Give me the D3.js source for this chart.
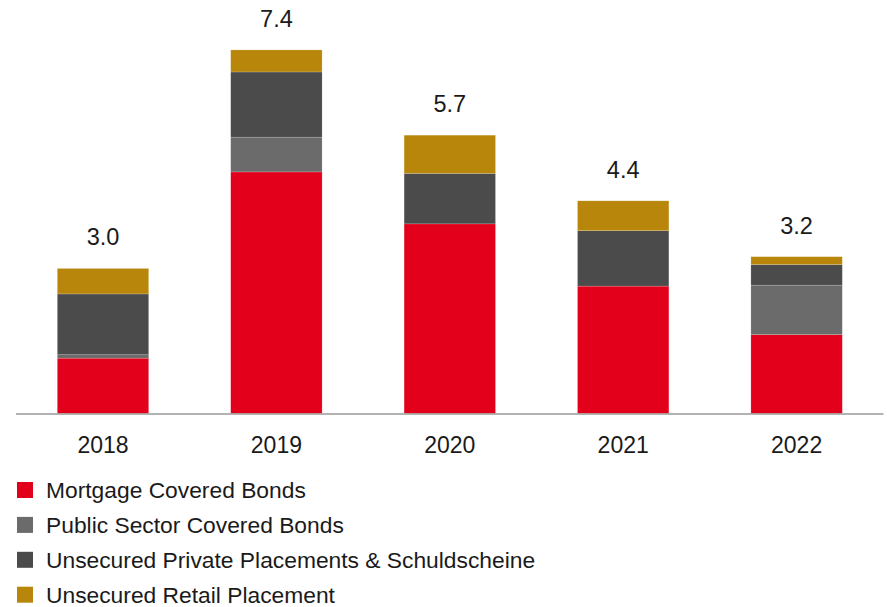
<!DOCTYPE html>
<html>
<head>
<meta charset="utf-8">
<script src="https://cdn.jsdelivr.net/npm/d3@7"></script>
<style>
  html, body { margin: 0; padding: 0; background: #ffffff; }
  svg { display: block; }
  text { font-family: "Liberation Sans", Arial, sans-serif; fill: #1a1a1a; }
</style>
</head>
<body>
<svg id="chart" width="887" height="607"></svg>
<script>
// ---- Data ----
const years = ["2018", "2019", "2020", "2021", "2022"];
const mortgageCovered = [1.13, 4.93, 3.87, 2.60, 1.61];
const publicSectorCovered = [0.07, 0.71, 0.00, 0.00, 1.01];
const unsecuredPrivate = [1.24, 1.33, 1.03, 1.13, 0.42];
const unsecuredRetail = [0.52, 0.45, 0.78, 0.61, 0.16];
const totalLabels = ["3.0", "7.4", "5.7", "4.4", "3.2"];

const seriesNames = [
  "Mortgage Covered Bonds",
  "Public Sector Covered Bonds",
  "Unsecured Private Placements & Schuldscheine",
  "Unsecured Retail Placement"
];
const seriesColors = ["#e2001a", "#6b6b6b", "#4b4b4b", "#b8860b"];
const seriesValues = [mortgageCovered, publicSectorCovered, unsecuredPrivate, unsecuredRetail];

// ---- Build table ----
const keys = ["m", "p", "u", "r"];
const table = years.map((y, i) => {
  const row = { year: y };
  keys.forEach((k, j) => row[k] = seriesValues[j][i]);
  return row;
});
const stacked = d3.stack().keys(keys)(table);

const svg = d3.select("#chart");
const baseY = 413.5;

const x = d3.scaleBand()
  .domain(years)
  .range([16.3, 883.3])
  .paddingInner(0.473)
  .paddingOuter(0.2365);

const y = d3.scaleLinear()
  .domain([0, 8])
  .range([baseY, baseY - 392]);

// bars
const g = svg.append("g");
stacked.forEach((layer, li) => {
  g.selectAll(null)
    .data(layer)
    .join("rect")
    .attr("x", d => x(d.data.year))
    .attr("width", x.bandwidth())
    .attr("y", d => y(d[1]))
    .attr("height", d => Math.max(0, y(d[0]) - y(d[1])))
    .attr("fill", seriesColors[li])
    .attr("stroke", "rgba(255,255,255,0.35)")
    .attr("stroke-width", 0.5);
});

// total labels
const topVals = table.map(d => keys.reduce((s, k) => s + d[k], 0));
svg.append("g").selectAll("text")
  .data(years)
  .join("text")
  .attr("x", d => x(d) + x.bandwidth() / 2)
  .attr("y", (d, i) => y(topVals[i]) - 23)
  .attr("text-anchor", "middle")
  .attr("font-size", "23.5px")
  .text((d, i) => totalLabels[i]);

// x axis
const axis = svg.append("g")
  .attr("transform", `translate(0,${baseY + 0.5})`)
  .call(d3.axisBottom(x).tickSize(0).tickPadding(22));
axis.select(".domain")
  .attr("stroke", "#9a9a9a")
  .attr("stroke-width", 1.5)
  .attr("d", "M16,0H883.5");
axis.selectAll(".tick text")
  .attr("font-size", "23px")
  .attr("font-family", "Liberation Sans, Arial, sans-serif")
  .attr("fill", "#1a1a1a")
  .attr("dy", "0")
  .attr("y", 39);

// legend
const legend = svg.append("g");
const rows = legend.selectAll("g")
  .data(seriesNames)
  .join("g")
  .attr("transform", (d, i) => `translate(17,${482 + i * 34.9})`);
rows.append("rect")
  .attr("width", 16)
  .attr("height", 16)
  .attr("fill", (d, i) => seriesColors[i]);
rows.append("text")
  .attr("x", 29)
  .attr("y", 16)
  .attr("font-size", "22.8px")
  .text(d => d);
</script>
</body>
</html>
